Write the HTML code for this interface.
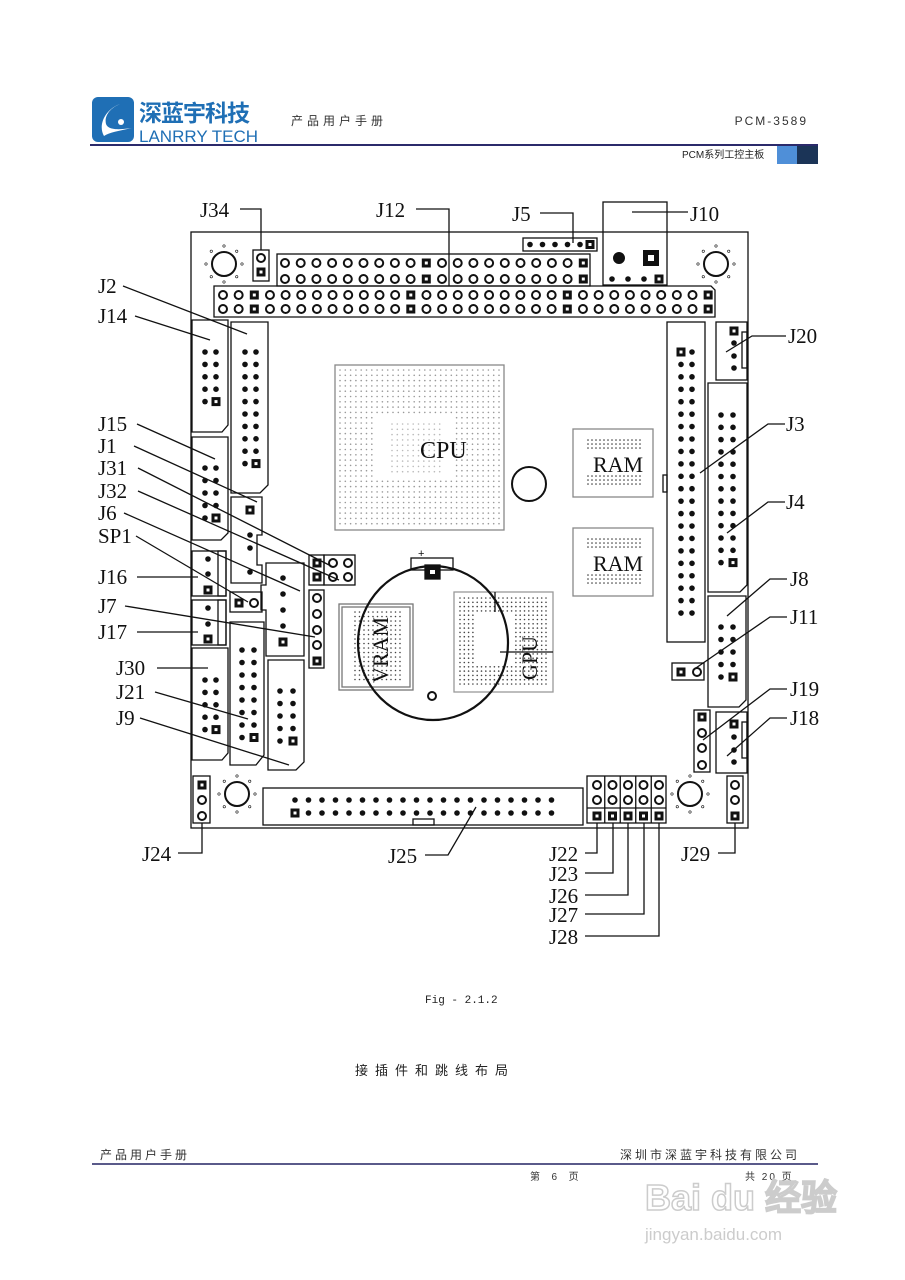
<!DOCTYPE html>
<html><head><meta charset="utf-8"><style>
body{margin:0;background:#fff;}
svg{display:block}
.l{font-family:"Liberation Serif",serif;font-size:21px;fill:#111}
.c{font-family:"Liberation Sans","Noto Sans CJK SC",sans-serif}
</style></head><body>
<svg id="s" width="905" height="1280" viewBox="0 0 905 1280" xmlns="http://www.w3.org/2000/svg">
<!-- header -->
<rect x="92" y="97" width="42" height="45" rx="6" fill="#1f6fb5"/>
<path d="M120 104 C104 110 98 126 104 136 C110 132 124 130 132 128 C118 130 108 130 106 124 C104 116 110 108 120 104Z" fill="#fff"/>
<circle cx="121" cy="122" r="3" fill="#fff"/>
<text x="139" y="121" class="c" font-size="23" font-weight="bold" fill="#1f6fb5" letter-spacing="-1">深蓝宇科技</text>
<text x="139" y="142" class="c" font-size="17" fill="#1f6fb5">LANRRY TECH</text>
<text x="291" y="125" class="c" font-size="12" fill="#333" letter-spacing="4">产品用户手册</text>
<text x="808" y="125" class="c" font-size="12" fill="#333" letter-spacing="2" text-anchor="end">PCM-3589</text>
<rect x="90" y="144" width="728" height="2" fill="#2b2a6b"/>
<text x="682" y="158" class="c" font-size="10" fill="#222">PCM系列工控主板</text>
<rect x="777" y="146" width="20" height="18" fill="#4f8fd8"/>
<rect x="797" y="146" width="21" height="18" fill="#1b3457"/>
<g id="g" stroke="#111" fill="none" stroke-width="1.3"></g>
<!-- labels -->
<g class="l">
<text x="200" y="217">J34</text><text x="376" y="217">J12</text><text x="512" y="221">J5</text><text x="690" y="221">J10</text>
<text x="98" y="293">J2</text><text x="98" y="323">J14</text><text x="98" y="431">J15</text><text x="98" y="453">J1</text>
<text x="98" y="475">J31</text><text x="98" y="498">J32</text><text x="98" y="520">J6</text><text x="98" y="543">SP1</text>
<text x="98" y="584">J16</text><text x="98" y="613">J7</text><text x="98" y="639">J17</text><text x="116" y="675">J30</text>
<text x="116" y="699">J21</text><text x="116" y="725">J9</text>
<text x="788" y="343">J20</text><text x="786" y="431">J3</text><text x="786" y="509">J4</text><text x="790" y="586">J8</text>
<text x="790" y="624">J11</text><text x="790" y="696">J19</text><text x="790" y="725">J18</text>
<text x="142" y="861">J24</text><text x="388" y="863">J25</text><text x="549" y="861">J22</text><text x="549" y="881">J23</text>
<text x="549" y="903">J26</text><text x="549" y="922">J27</text><text x="549" y="944">J28</text><text x="681" y="861">J29</text>
</g>
<text x="420" y="458" font-family="Liberation Serif,serif" font-size="24" fill="#111">CPU</text>
<text x="593" y="472" font-family="Liberation Serif,serif" font-size="22" fill="#111">RAM</text>
<text x="593" y="571" font-family="Liberation Serif,serif" font-size="22" fill="#111">RAM</text>
<text transform="translate(388,683) rotate(-90)" font-family="Liberation Serif,serif" font-size="22" fill="#111">VRAM</text>
<text transform="translate(537,680) rotate(-90)" font-family="Liberation Serif,serif" font-size="22" fill="#111">GPU</text>
<text x="418" y="557" font-family="Liberation Sans,sans-serif" font-size="11" fill="#111">+</text>
<text x="425" y="1003" font-family="Liberation Mono,monospace" font-size="11" fill="#222">Fig - 2.1.2</text>
<text x="355" y="1075" class="c" font-size="13" fill="#222" letter-spacing="7">接插件和跳线布局</text>
<!-- footer -->
<text x="100" y="1159" class="c" font-size="12" fill="#333" letter-spacing="3">产品用户手册</text>
<text x="800" y="1159" class="c" font-size="12" fill="#333" letter-spacing="3" text-anchor="end">深圳市深蓝宇科技有限公司</text>
<rect x="92" y="1163" width="726" height="2" fill="#5a5a8a"/>
<text x="530" y="1180" class="c" font-size="10" fill="#333" letter-spacing="2">第 &#160;6 &#160;页</text>
<text x="745" y="1180" class="c" font-size="10" fill="#333" letter-spacing="2">共 20 页</text>
<text x="645" y="1210" font-family="Liberation Sans,sans-serif" font-size="36" font-weight="bold" fill="none" stroke="#ccc" stroke-width="1.5">Bai du 经验</text>
<text x="645" y="1240" font-family="Liberation Sans,sans-serif" font-size="17" fill="#ccc">jingyan.baidu.com</text>
</svg>
<script>
var g=document.getElementById('g'),S='';
function R(x,y,w,h,e){S+='<rect x="'+x+'" y="'+y+'" width="'+w+'" height="'+h+'" '+(e||'')+'/>';}
function L(p){S+='<polyline points="'+p+'"/>';}
function P(p){S+='<polygon points="'+p+'"/>';}
function C(x,y,r){S+='<circle cx="'+x+'" cy="'+y+'" r="'+(r||4)+'" stroke-width="2"/>';}
function D(x,y){S+='<circle cx="'+x+'" cy="'+y+'" r="2.8" fill="#111" stroke="none"/>';}
function Q(x,y){S+='<rect x="'+(x-4.5)+'" y="'+(y-4.5)+'" width="9" height="9" fill="#111" stroke="none"/><rect x="'+(x-1.5)+'" y="'+(y-1.5)+'" width="3" height="3" fill="#fff" stroke="none"/>';}
function H(x,y,r){C(x,y,r);for(var a=0;a<8;a++){var t=a*Math.PI/4;S+='<circle cx="'+(x+Math.cos(t)*(r+6))+'" cy="'+(y+Math.sin(t)*(r+6))+'" r="1.2" stroke-width="0.6"/>';}}
function dots(x0,y0,x1,y1,sp,c){for(var x=x0;x<=x1+0.1;x+=sp)for(var y=y0;y<=y1+0.1;y+=sp)S+='<circle cx="'+x+'" cy="'+y+'" r="0.8" fill="'+(c||'#999')+'" stroke="none"/>';}
// board
R(191,232,557,596);
H(224,264,12);H(716,264,12);H(237,794,12);H(690,794,12);
// J12
R(277,254,313,32);
for(var i=0;i<20;i++){var x=285+i*15.7;[263,279].forEach(function(y){(i==9||i==19)?Q(x,y):C(x,y);});}
// PC104
P('214,286 711,286 715,290 715,317 214,317');
for(i=0;i<32;i++){x=223+i*15.65;[295,309].forEach(function(y){(i==2||i==12||i==22||i==31)?Q(x,y):C(x,y);});}
// J5
R(523,238,74,13);for(i=0;i<5;i++)D(530+i*12.5,244.5);Q(590,244.5);
// J10
R(603,202,64,83);C(619,258,5);S+='<circle cx="619" cy="258" r="5" fill="#111"/>';Q(651,258);S+='<rect x="643" y="250" width="16" height="16" fill="#111" stroke="none"/><rect x="648" y="255" width="6" height="6" fill="#fff" stroke="none"/>';
D(612,279);D(628,279);D(644,279);Q(659,279);
// J34
R(253,250,16,31);C(261,258);Q(261,272);
// J14
P('192,320 228,320 228,425 222,432 192,432');
for(i=0;i<5;i++){var y=352+i*12.4;D(205,y);i==4?Q(216,y):D(216,y);}
// J2
P('231,322 268,322 268,485 260,493 231,493');
for(i=0;i<10;i++){y=352+i*12.4;D(245,y);i==9?Q(256,y):D(256,y);}
// J15
P('192,437 228,437 228,533 221,540 192,540');
for(i=0;i<5;i++){y=468+i*12.5;D(205,y);i==4?Q(216,y):D(216,y);}
// J1
P('231,497 262,497 262,535 257,535 257,565 262,565 262,583 231,583');
Q(250,510);D(250,535);D(250,548);D(250,572);
// J6
P('266,563 304,563 304,656 266,656 266,610 261,610 261,585 266,585');
D(283,578);D(283,594);D(283,610);D(283,626);Q(283,642);
// J16,J17
R(192,551,34,45);R(218,551,8,45);D(208,559);D(208,574);Q(208,590);
R(192,600,34,45);R(218,600,8,45);D(208,608);D(208,624);Q(208,639);
// SP1
R(230,592,32,20);Q(239,603);C(254,603);
// J30
P('192,648 228,648 228,753 222,760 192,760');
for(i=0;i<5;i++){y=680+i*12.4;D(205,y);i==4?Q(216,y):D(216,y);}
// J21
P('230,622 264,622 264,755 256,765 230,765');
for(i=0;i<8;i++){y=650+i*12.5;D(242,y);i==7?Q(254,y):D(254,y);}
// J9
P('268,660 304,660 304,762 296,770 268,770');
for(i=0;i<5;i++){y=691+i*12.5;D(280,y);i==4?Q(293,y):D(293,y);}
// J31/J32
R(309,555,15,30);R(324,555,31,30);Q(317,563);Q(317,577);C(333,563);C(348,563);C(333,577);C(348,577);
// J7
R(309,590,15,78);C(317,598);C(317,614);C(317,630);C(317,645);Q(317,661);
// CPU
R(335,365,169,165,'stroke="#888"');dots(340,370,500,526,5.3);
S+='<rect x="375" y="415" width="80" height="65" fill="#fff" stroke="none"/>';dots(392,424,442,472,5.3,'#bbb');
C(529,484,17);S+='<circle cx="529" cy="484" r="17" stroke-width="1"/>';
// RAM
R(573,429,80,68,'stroke="#888"');dots(588,440,640,448,4,'#333');dots(588,476,640,484,4,'#333');
R(573,528,80,68,'stroke="#888"');dots(588,539,640,547,4,'#333');dots(588,575,640,583,4,'#333');
// VRAM
R(339,604,74,86,'stroke="#777"');R(342,607,68,80,'stroke="#777"');dots(355,612,402,682,4.5,'#444');
// GPU
R(454,592,99,100,'stroke="#999"');dots(460,598,548,688,4.3,'#444');
S+='<rect x="475" y="614" width="40" height="50" fill="#fff" stroke="none"/>';
L('495,592 495,612');L('500,652 553,652');
// battery
R(411,558,42,12);S+='<ellipse cx="433" cy="643" rx="75" ry="77" stroke-width="2.2"/>';Q(432,572);S+='<rect x="425" y="565" width="15" height="14" fill="#111"/><rect x="430" y="570" width="5" height="4" fill="#fff" stroke="none"/>';C(432,696);
// J3
R(667,322,38,320);R(663,475,4,17);
for(i=0;i<22;i++){y=352+i*12.43;i==0?Q(681,y):D(681,y);D(692,y);}
// J20
R(716,322,31,58);R(742,332,5,36);Q(734,331);D(734,343);D(734,356);D(734,368);
// J4
P('708,383 747,383 747,585 740,592 708,592');
for(i=0;i<13;i++){y=415+i*12.3;D(721,y);i==12?Q(733,y):D(733,y);}
// J8
P('708,596 746,596 746,700 739,707 708,707');
for(i=0;i<5;i++){y=627+i*12.5;D(721,y);i==4?Q(733,y):D(733,y);}
// J11
R(672,663,32,17);Q(681,672);C(697,672);
// J19
R(694,710,16,62);Q(702,717);C(702,733);C(702,748);C(702,765);
// J18
R(716,712,31,61);R(742,722,5,36);Q(734,724);D(734,737);D(734,750);D(734,762);
// J24
R(193,776,17,47);Q(202,785);C(202,800);C(202,816);
// J25
R(263,788,320,37);R(413,819,21,6);
for(i=0;i<20;i++){x=295+i*13.5;D(x,800);i==0?Q(x,813):D(x,813);}
// J22-28
R(587,776,79,47);L('587,808 666,808');
for(i=0;i<5;i++){x=597+i*15.5;if(i>0)L((x-7.75)+',776 '+(x-7.75)+',823');C(x,785);C(x,800);Q(x,816);}
// J29
R(727,776,16,47);C(735,785);C(735,800);Q(735,816);
// leader lines
L('240,209 261,209 261,250');L('416,209 449,209 449,286');L('540,213 573,213 573,243');L('632,212 688,212');
L('123,286 247,334');L('135,316 210,340');L('137,424 215,459');L('134,446 257,502');
L('138,468 333,567');L('138,491 339,580');L('124,513 300,591');L('136,536 248,602');
L('137,577 198,577');L('125,606 315,637');L('137,632 198,632');L('157,668 208,668');
L('155,692 248,719');L('140,718 289,765');
L('786,336 752,336 726,352');L('785,424 768,424 700,473');L('785,502 768,502 727,533');
L('787,579 770,579 727,616');L('787,617 770,617 693,670');L('787,689 770,689 703,740');L('787,718 770,718 727,756');
L('178,853 202,853 202,823');L('425,855 448,855 476,807');
L('585,853 597,853 597,823');L('585,873 613,873 613,823');L('585,895 628,895 628,823');L('585,914 644,914 644,823');L('585,936 659,936 659,823');
L('718,853 735,853 735,823');
g.innerHTML=S;
</script>
</body></html>
